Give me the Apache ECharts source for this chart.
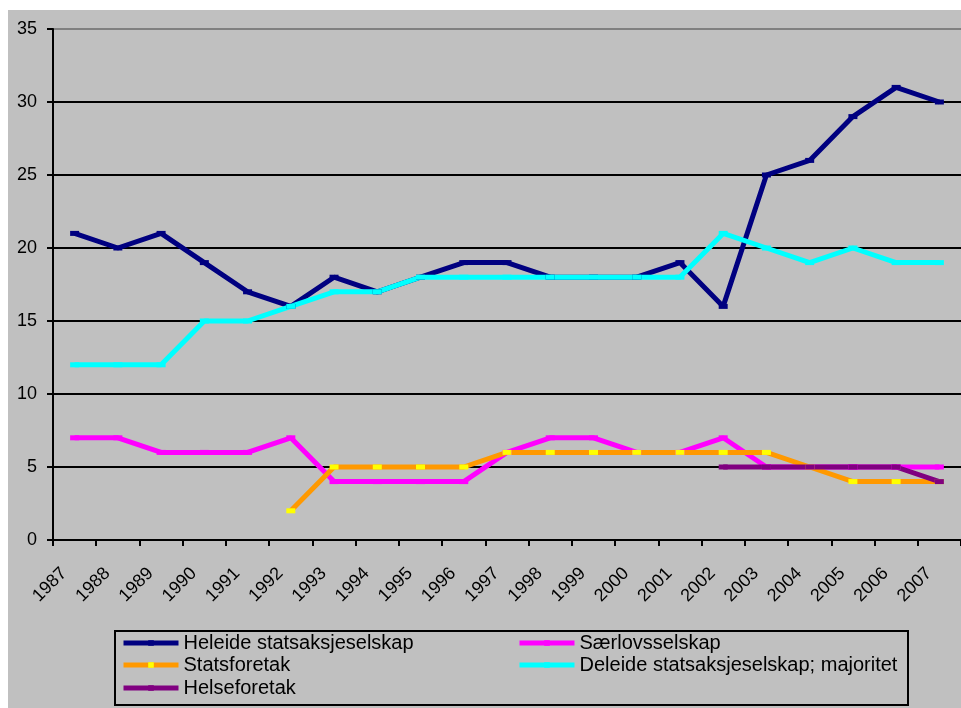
<!DOCTYPE html>
<html lang="en">
<head>
    <meta charset="UTF-8" />
    <title>Selskaper 1987-2007</title>
    <script src="https://cdn.jsdelivr.net/npm/echarts@6/dist/echarts.min.js"></script>
    <style>
        html, body { margin: 0; padding: 0; background: #ffffff; }
        #chart { position: absolute; left: 8px; top: 10px; width: 953px; height: 698px; background: #c0c0c0; }
    </style>
</head>
<body>
    <div id="chart"></div>
    <script type="text/javascript">
        // categories and values
        const years = ['1987', '1988', '1989', '1990', '1991', '1992', '1993', '1994', '1995', '1996', '1997',
            '1998', '1999', '2000', '2001', '2002', '2003', '2004', '2005', '2006', '2007'];
        const heleide = [21, 20, 21, 19, 17, 16, 18, 17, 18, 19, 19, 18, 18, 18, 19, 16, 25, 26, 29, 31, 30];
        const saerlov = [7, 7, 6, 6, 6, 7, 4, 4, 4, 4, 6, 7, 7, 6, 6, 7, 5, 5, 5, 5, 5];
        const statsforetak = [null, null, null, null, null, 2, 5, 5, 5, 5, 6, 6, 6, 6, 6, 6, 6, 5, 4, 4, 4];
        const deleide = [12, 12, 12, 15, 15, 16, 17, 17, 18, 18, 18, 18, 18, 18, 18, 21, 20, 19, 20, 19, 19];
        const helse = [null, null, null, null, null, null, null, null, null, null, null, null, null, null, null, 5, 5, 5, 5, 5, 4];
        const yTicks = [0, 5, 10, 15, 20, 25, 30, 35];

        const font = 'Liberation Sans, Arial, sans-serif';

        function line(name, data, color, markerColor) {
            return {
                name: name,
                type: 'line',
                data: data,
                symbol: 'rect',
                symbolSize: [9, 5],
                showSymbol: true,
                itemStyle: { color: markerColor || color },
                lineStyle: { color: color, width: 5 },
                connectNulls: false
            };
        }

        // one legend block per entry, Excel puts them in two columns
        function legendItem(name, left, top) {
            return {
                data: [name],
                left: left, top: top,
                padding: 0,
                itemWidth: 55, itemHeight: 7, itemGap: 0,
                lineStyle: { width: 5 },
                textStyle: { color: '#000', fontSize: 20, lineHeight: 22 }
            };
        }

        let chart = echarts.init(document.getElementById('chart'));
        chart.setOption({
            animation: false,
            textStyle: { fontFamily: font },
            grid: { left: 45, top: 19, height: 511, right: -9 },
            xAxis: {
                type: 'category',
                data: years,
                boundaryGap: true,
                axisLine: { lineStyle: { color: '#000', width: 2 } },
                axisTick: { show: true, length: 6, lineStyle: { color: '#000', width: 2 } },
                axisLabel: { rotate: 45, color: '#000', fontSize: 18, margin: 20, padding: [0, 15, 0, 0], interval: 0 }
            },
            yAxis: {
                type: 'value',
                min: yTicks[0],
                max: yTicks[yTicks.length - 1],
                interval: 5,
                axisLine: { show: true, lineStyle: { color: '#000', width: 2 } },
                axisTick: { show: true, length: 6, lineStyle: { color: '#000', width: 2 } },
                axisLabel: { color: '#000', fontSize: 18, margin: 16 },
                splitLine: { lineStyle: { color: ['#000', '#000', '#000', '#000', '#000', '#000', '#000', '#808080'], width: 2 } }
            },
            legend: [
                legendItem('Heleide statsaksjeselskap', 113, 622),
                legendItem('Statsforetak', 113, 644),
                legendItem('Helseforetak', 113, 667),
                legendItem('Særlovsselskap', 509, 622),
                legendItem('Deleide statsaksjeselskap; majoritet', 509, 644)
            ],
            graphic: [{
                type: 'rect',
                shape: { x: 107, y: 621, width: 793, height: 74 },
                style: { fill: 'none', stroke: '#000', lineWidth: 2 }
            }],
            series: [
                line('Heleide statsaksjeselskap', heleide, '#000080'),
                line('Særlovsselskap', saerlov, '#ff00ff'),
                line('Statsforetak', statsforetak, '#ff9900', '#ffff00'),
                line('Deleide statsaksjeselskap; majoritet', deleide, '#00ffff'),
                line('Helseforetak', helse, '#800080')
            ]
        });
    </script>
</body>
</html>
